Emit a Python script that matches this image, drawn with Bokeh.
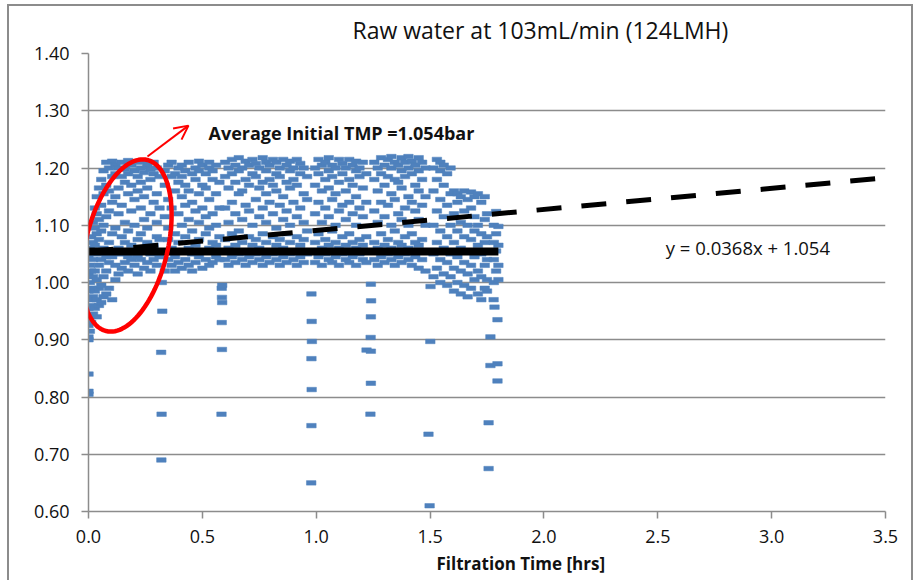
import math
from bokeh.plotting import figure
from bokeh.models import (Range1d, Title, Arrow, OpenHead, PolyAnnotation, Label,
                          NumeralTickFormatter, InlineStyleSheet)
from bokeh.embed import file_html
from bokeh.resources import INLINE

# ---------------- data ----------------
chart_title = "Raw water at 103mL/min (124LMH)"
x_title = "Filtration Time [hrs]"
x_ticks = [0.0, 0.5, 1.0, 1.5, 2.0, 2.5, 3.0, 3.5]
y_ticks = [0.6, 0.7, 0.8, 0.9, 1.0, 1.1, 1.2, 1.3, 1.4]

fit_slope = 0.0368
fit_intercept = 1.054
avg_initial_tmp = 1.054
avg_line_end = 1.8
fit_line_end = 3.5

# cycle 1 (start-up ramp + first filtration cycle)
c1_time = [0.000, 0.006, 0.012, 0.020, 0.028, 0.036, 0.046, 0.056, 0.066, 0.078,
           0.090, 0.104, 0.118, 0.132, 0.146, 0.160, 0.174, 0.188, 0.202, 0.216,
           0.230, 0.244, 0.258, 0.272, 0.286, 0.300, 0.312]
c1_tmp = [
    [0.805, 0.81, 0.84, 0.90, 0.905, 0.925, 0.955, 0.985, 1.015, 1.045],
    [0.915, 0.94, 0.97, 1.00, 1.03, 1.06],
    [0.93, 0.96, 0.99, 1.02, 1.055, 1.08],
    [0.945, 0.975, 1.01, 1.04, 1.07, 1.105],
    [0.955, 0.985, 1.02, 1.065, 1.095, 1.13],
    [0.94, 0.97, 1.005, 1.05, 1.085, 1.12, 1.15],
    [0.96, 0.99, 1.03, 1.075, 1.11, 1.165],
    [0.965, 0.995, 1.04, 1.09, 1.135, 1.18],
    [0.975, 1.01, 1.06, 1.10, 1.155, 1.195],
    [0.98, 1.02, 1.045, 1.115, 1.17, 1.21],
    [0.99, 1.035, 1.07, 1.125, 1.16, 1.20],
    [0.97, 1.045, 1.085, 1.14, 1.185, 1.212],
    [1.005, 1.03, 1.095, 1.15, 1.19, 1.205],
    [1.015, 1.06, 1.12, 1.165, 1.20],
    [1.025, 1.05, 1.08, 1.135, 1.185, 1.21],
    [1.035, 1.07, 1.105, 1.175, 1.198],
    [1.02, 1.045, 1.09, 1.155, 1.19, 1.213],
    [1.04, 1.065, 1.125, 1.17, 1.205],
    [1.03, 1.055, 1.10, 1.145, 1.195],
    [1.015, 1.045, 1.075, 1.16, 1.185, 1.21],
    [1.04, 1.085, 1.13, 1.175, 1.20],
    [1.025, 1.06, 1.11, 1.15, 1.192, 1.212],
    [1.035, 1.07, 1.095, 1.165, 1.205],
    [1.02, 1.05, 1.12, 1.18, 1.198],
    [1.04, 1.065, 1.14, 1.19, 1.21],
    [1.03, 1.08, 1.105, 1.155, 1.20],
    [1.045, 1.075, 1.13, 1.185],
]

# cycle 2
c2_time = [0.335, 0.350, 0.365, 0.380, 0.395, 0.410, 0.425, 0.440, 0.455, 0.470,
           0.485, 0.500, 0.515, 0.530, 0.545, 0.560, 0.575]
c2_tmp = [
    [1.02, 1.055, 1.115, 1.17, 1.195],
    [1.04, 1.075, 1.095, 1.145, 1.205],
    [1.03, 1.06, 1.13, 1.185, 1.21],
    [1.02, 1.045, 1.085, 1.16, 1.19],
    [1.035, 1.07, 1.12, 1.175, 1.20],
    [1.025, 1.055, 1.10, 1.15, 1.185, 1.205],
    [1.04, 1.08, 1.135, 1.17, 1.195],
    [1.03, 1.06, 1.11, 1.16, 1.21],
    [1.02, 1.05, 1.09, 1.14, 1.19],
    [1.035, 1.065, 1.125, 1.18, 1.20],
    [1.045, 1.075, 1.105, 1.155, 1.195, 1.212],
    [1.025, 1.055, 1.13, 1.17, 1.205],
    [1.04, 1.085, 1.115, 1.165, 1.19],
    [1.03, 1.06, 1.095, 1.145, 1.20, 1.21],
    [1.035, 1.07, 1.12, 1.18, 1.195],
    [1.045, 1.065, 1.10, 1.155, 1.205],
    [1.04, 1.08, 1.13, 1.175],
]

# cycle 3
c3_time = [0.600, 0.615, 0.630, 0.645, 0.660, 0.675, 0.690, 0.705, 0.720, 0.735,
           0.750, 0.765, 0.780, 0.795, 0.810, 0.825, 0.840, 0.855, 0.870, 0.885,
           0.900, 0.915, 0.930, 0.945, 0.960]
c3_tmp = [
    [1.04, 1.075, 1.13, 1.185, 1.21],
    [1.03, 1.06, 1.105, 1.165, 1.20],
    [1.045, 1.085, 1.14, 1.19, 1.215],
    [1.035, 1.065, 1.12, 1.175, 1.205],
    [1.05, 1.09, 1.155, 1.195, 1.218],
    [1.04, 1.07, 1.11, 1.16, 1.20],
    [1.03, 1.055, 1.135, 1.18, 1.212],
    [1.045, 1.08, 1.125, 1.17, 1.205],
    [1.035, 1.065, 1.10, 1.19, 1.215],
    [1.05, 1.075, 1.145, 1.185, 1.208],
    [1.04, 1.06, 1.115, 1.165, 1.20],
    [1.03, 1.085, 1.13, 1.175, 1.218],
    [1.045, 1.07, 1.105, 1.155, 1.195, 1.21],
    [1.035, 1.055, 1.14, 1.18, 1.205],
    [1.05, 1.08, 1.12, 1.17, 1.215],
    [1.04, 1.065, 1.095, 1.16, 1.19, 1.21],
    [1.03, 1.075, 1.135, 1.185, 1.20],
    [1.045, 1.06, 1.11, 1.15, 1.215],
    [1.035, 1.085, 1.125, 1.175, 1.205],
    [1.05, 1.07, 1.10, 1.165, 1.195, 1.212],
    [1.04, 1.055, 1.14, 1.18, 1.20],
    [1.03, 1.08, 1.115, 1.17, 1.215],
    [1.045, 1.065, 1.13, 1.19, 1.208],
    [1.035, 1.075, 1.105, 1.155, 1.20],
    [1.05, 1.09, 1.145, 1.185],
]

# cycle 4
c4_time = [0.995, 1.010, 1.025, 1.040, 1.055, 1.070, 1.085, 1.100, 1.115, 1.130,
           1.145, 1.160, 1.175, 1.190, 1.205, 1.220]
c4_tmp = [
    [1.035, 1.07, 1.12, 1.17, 1.20],
    [1.045, 1.085, 1.14, 1.19, 1.215],
    [1.03, 1.06, 1.105, 1.16, 1.205],
    [1.05, 1.075, 1.13, 1.18, 1.21],
    [1.04, 1.065, 1.115, 1.165, 1.195, 1.218],
    [1.035, 1.09, 1.145, 1.185, 1.205],
    [1.045, 1.07, 1.10, 1.155, 1.20],
    [1.03, 1.06, 1.125, 1.175, 1.215],
    [1.05, 1.08, 1.135, 1.19, 1.208],
    [1.04, 1.065, 1.11, 1.16, 1.20],
    [1.035, 1.085, 1.14, 1.18, 1.215],
    [1.045, 1.07, 1.12, 1.17, 1.205],
    [1.03, 1.06, 1.10, 1.15, 1.195, 1.212],
    [1.05, 1.075, 1.13, 1.185, 1.20],
    [1.04, 1.065, 1.115, 1.165, 1.21],
    [1.035, 1.08, 1.14, 1.19],
]

# cycle 5
c5_time = [1.255, 1.270, 1.285, 1.300, 1.315, 1.330, 1.345, 1.360, 1.375, 1.390,
           1.405, 1.420, 1.435, 1.450, 1.465, 1.480]
c5_tmp = [
    [1.04, 1.07, 1.125, 1.18, 1.21],
    [1.03, 1.06, 1.105, 1.16, 1.20],
    [1.045, 1.085, 1.14, 1.19, 1.218],
    [1.035, 1.065, 1.115, 1.17, 1.205],
    [1.05, 1.075, 1.135, 1.185, 1.215],
    [1.04, 1.06, 1.10, 1.155, 1.20, 1.22],
    [1.03, 1.09, 1.145, 1.18, 1.21],
    [1.045, 1.07, 1.12, 1.175, 1.205],
    [1.035, 1.065, 1.11, 1.165, 1.195, 1.218],
    [1.05, 1.08, 1.13, 1.185, 1.21],
    [1.04, 1.06, 1.10, 1.15, 1.20, 1.22],
    [1.03, 1.085, 1.14, 1.19, 1.212],
    [1.045, 1.07, 1.125, 1.17, 1.205],
    [1.025, 1.065, 1.11, 1.16, 1.195, 1.218],
    [1.04, 1.075, 1.135, 1.18, 1.21],
    [1.02, 1.055, 1.10, 1.15, 1.20],
]

# cycle 6 (last, lower band)
c6_time = [1.515, 1.530, 1.545, 1.560, 1.575, 1.590, 1.605, 1.620, 1.635, 1.650,
           1.665, 1.680, 1.695, 1.710, 1.725, 1.740, 1.750]
c6_tmp = [
    [1.01, 1.05, 1.10, 1.16, 1.20],
    [1.025, 1.07, 1.125, 1.18, 1.215],
    [1.00, 1.04, 1.09, 1.145, 1.195, 1.21],
    [1.015, 1.06, 1.115, 1.17, 1.205],
    [0.995, 1.035, 1.08, 1.135, 1.19],
    [1.01, 1.05, 1.10, 1.155, 1.20],
    [0.985, 1.025, 1.07, 1.12, 1.16],
    [1.00, 1.045, 1.09, 1.14, 1.155],
    [0.98, 1.02, 1.06, 1.105, 1.15],
    [0.995, 1.035, 1.08, 1.125, 1.16],
    [0.975, 1.015, 1.055, 1.10, 1.145],
    [0.99, 1.03, 1.075, 1.13, 1.158],
    [1.005, 1.045, 1.09, 1.115, 1.15],
    [0.98, 1.02, 1.065, 1.10, 1.155],
    [0.97, 1.01, 1.05, 1.085, 1.14],
    [0.99, 1.03, 1.07, 1.11, 1.15],
    [0.985, 1.005, 1.04, 1.08, 1.12],
]

# after the last backwash
c7_time = [1.78, 1.79, 1.80]
c7_tmp = [
    [1.00, 1.04, 1.07, 1.10],
    [1.02, 1.055, 1.085, 1.124],
    [1.005, 1.03, 1.065, 1.098],
]

# low readings at each backwash
bw_time = [0.320, 0.321, 0.319, 0.324, 0.322,
           0.584, 0.586, 0.585, 0.587, 0.586, 0.585, 0.587,
           0.978, 0.979, 0.980, 0.979, 0.981, 0.980, 0.979,
           1.221, 1.238, 1.240, 1.240, 1.239, 1.240, 1.241, 1.240,
           1.498, 1.493, 1.501, 1.502,
           1.757, 1.757, 1.796, 1.765, 1.796, 1.765, 1.796, 1.783, 1.779]
bw_tmp = [0.69, 0.77, 0.878, 0.95, 1.00,
          0.77, 0.883, 0.93, 0.965, 0.974, 0.99, 0.995,
          0.65, 0.75, 0.813, 0.867, 0.897, 0.932, 0.98,
          0.882, 0.77, 0.824, 0.88, 0.904, 0.94, 0.968, 0.997,
          0.61, 0.735, 0.897, 0.993,
          0.675, 0.755, 0.828, 0.855, 0.858, 0.905, 0.935, 0.957, 0.97]

# annotation anchors (data units)
avg_text = "Average Initial TMP =1.054bar"
avg_text_pos = (0.527, 1.262)
eq_text = "y = 0.0368x + 1.054"
eq_text_pos = (2.535, 1.061)
arrow_start = (0.259, 1.220)
arrow_end = (0.439, 1.274)
ellipse_center = (0.168, 1.0646)

# ---------------- assemble ----------------
time_pts, tmp_pts = [], []
for times, cols in [(c1_time, c1_tmp), (c2_time, c2_tmp), (c3_time, c3_tmp),
                    (c4_time, c4_tmp), (c5_time, c5_tmp), (c6_time, c6_tmp),
                    (c7_time, c7_tmp)]:
    for t, col in zip(times, cols):
        time_pts += [t] * len(col)
        tmp_pts += col
time_pts += bw_time
tmp_pts += bw_tmp

FONT = "Open Sans"
GRID = "#8c8c8c"
INK = "#111111"

W, H = 916, 580
BL, BR, BT, BB = 88, 31, 53, 69
x0, x1 = 0.0, 3.5
y0, y1 = 0.6, 1.4

p = figure(width=W, height=H, x_range=Range1d(x0, x1), y_range=Range1d(y0, y1),
           output_backend="svg", toolbar_location=None,
           min_border_left=BL, min_border_right=BR, min_border_top=BT,
           min_border_bottom=BB, background_fill_color="white",
           border_fill_color="white")
p.outline_line_color = None

# outer chart-area border (decorative, drawn by CSS around the canvas)
p.stylesheets = [InlineStyleSheet(css=(
    ":host { position: relative; }"
    ":host::after { content: ''; position: absolute; left: 7px; top: 4px;"
    " width: 906px; height: 576px; box-sizing: border-box;"
    " border-left: 2px solid #8c8c8c; border-top: 2px solid #8c8c8c;"
    " border-right: 2px solid #8c8c8c; pointer-events: none; }"))]

p.title = Title(text=chart_title, align="left", offset=264,
                text_font=FONT, text_font_size="23px", text_font_style="normal",
                text_color=INK, standoff=16)

p.add_layout(Title(text=x_title, align="left", offset=348, text_font=FONT,
                   text_font_size="17px", text_font_style="bold",
                   text_color=INK, standoff=8), "below")

p.xgrid.visible = False
p.ygrid.grid_line_color = GRID
p.ygrid.grid_line_width = 1.5
p.xaxis.ticker = x_ticks
p.yaxis.ticker = y_ticks
p.xaxis.formatter = NumeralTickFormatter(format="0.0")
p.yaxis.formatter = NumeralTickFormatter(format="0.00")
for ax in (p.xaxis, p.yaxis):
    ax.axis_line_color = GRID
    ax.axis_line_width = 1.5
    ax.major_tick_line_color = GRID
    ax.major_tick_line_width = 1.5
    ax.major_tick_out = 7
    ax.major_tick_in = 0
    ax.minor_tick_line_color = None
    ax.major_label_text_font = FONT
    ax.major_label_text_font_size = "18px"
    ax.major_label_text_color = INK
p.xaxis.major_label_standoff = 11
p.yaxis.major_label_standoff = 12

# data points (dash-like markers)
p.rect(time_pts, tmp_pts, width=9.5, height=4.5, width_units="screen",
       height_units="screen", fill_color="#4f81bd", line_color="#4f81bd",
       line_width=0.5)

# average initial TMP line
p.line([0, avg_line_end], [avg_initial_tmp, avg_initial_tmp], line_color="black",
       line_width=8)

# linear trend line
fit_x = [0, fit_line_end]
fit_y = [fit_intercept + fit_slope * v for v in fit_x]
p.line(fit_x, fit_y, line_color="black", line_width=5, line_dash="25 20")

# red ellipse around the start-up region
px_per_x = (W - BL - BR) / (x1 - x0)
px_per_y = (H - BT - BB) / (y1 - y0)
a_px, b_px, tilt = 88.0, 41.0, math.radians(13.5)
ex, ey = [], []
for k in range(121):
    ph = 2 * math.pi * k / 120
    u, v = b_px * math.cos(ph), a_px * math.sin(ph)
    dx = u * math.cos(tilt) + v * math.sin(tilt)
    dy = -u * math.sin(tilt) + v * math.cos(tilt)
    ex.append(ellipse_center[0] + dx / px_per_x)
    ey.append(ellipse_center[1] + dy / px_per_y)
p.add_layout(PolyAnnotation(xs=ex, ys=ey, fill_alpha=0, line_color="#ff0000",
                            line_alpha=1.0, line_width=4.5))

p.add_layout(Arrow(end=OpenHead(size=14, line_color="#ff0000", line_width=2),
                   x_start=arrow_start[0], y_start=arrow_start[1],
                   x_end=arrow_end[0], y_end=arrow_end[1],
                   line_color="#ff0000", line_width=2))

p.add_layout(Label(x=avg_text_pos[0], y=avg_text_pos[1], text=avg_text,
                   text_font=FONT, text_font_size="18px", text_font_style="bold",
                   text_baseline="middle", text_color=INK))
p.add_layout(Label(x=eq_text_pos[0], y=eq_text_pos[1], text=eq_text,
                   text_font=FONT, text_font_size="18.5px",
                   text_baseline="middle", text_color=INK))

open("out.html", "w").write(file_html(p, INLINE))
